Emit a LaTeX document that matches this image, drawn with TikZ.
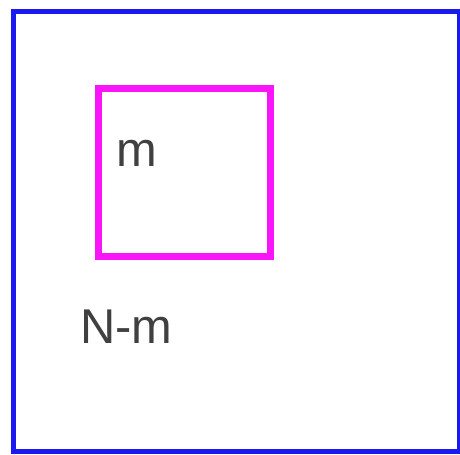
\documentclass[tikz,border=0pt]{standalone}
\usepackage{fontspec}
\setmainfont{Liberation Sans}
\usetikzlibrary{positioning}

\definecolor{setblue}{RGB}{25,25,240}
\definecolor{setmagenta}{RGB}{250,20,250}

\begin{document}
\begin{tikzpicture}[x=1bp,y=-1bp,
    txt/.style={inner sep=0pt,anchor=base west,font=\fontsize{49}{53}\selectfont,text=black!75}]
  \useasboundingbox (0,0) rectangle (460,455);

  \node[draw=setblue,line width=5bp,inner sep=0pt,minimum width=446bp,minimum height=440bp,anchor=north west] (all) at (11,9) {};
  \node[draw=setmagenta,line width=7bp,inner sep=0pt,minimum width=172bp,minimum height=168bp,anchor=north west] (sub) at (95,85) {};

  \node[txt] (m) at (116,167) {m};
  \node[txt] (rest) at (80,343) {N-m};

\end{tikzpicture}
\end{document}
